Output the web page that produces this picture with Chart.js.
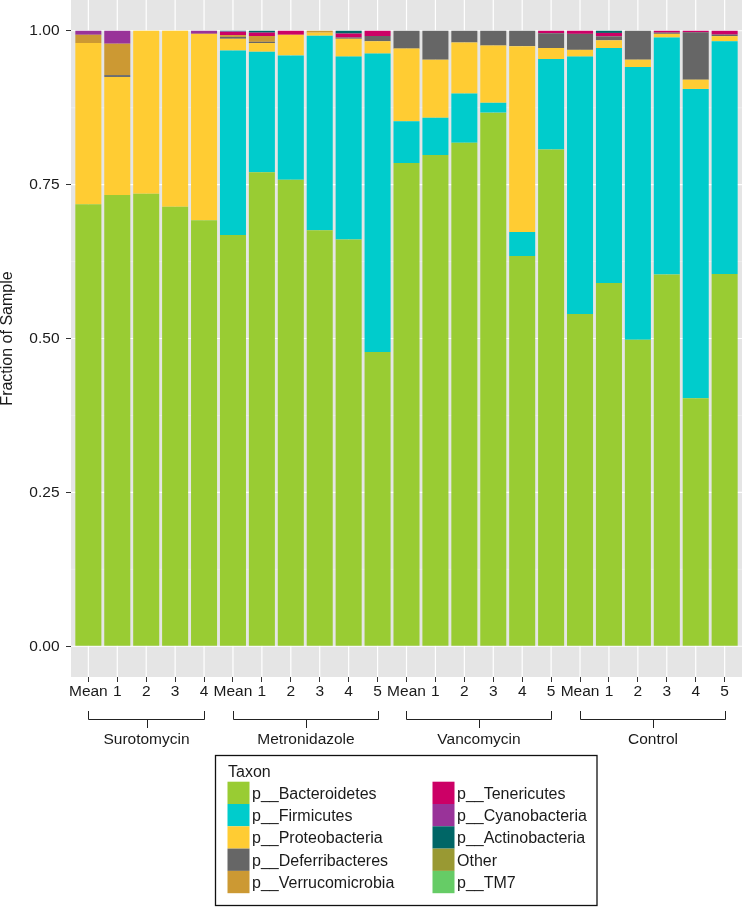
<!DOCTYPE html>
<html>
<head>
<meta charset="utf-8">
<script src="https://cdn.jsdelivr.net/npm/chart.js@4.4.1/dist/chart.umd.min.js"></script>
<style>
html,body{margin:0;padding:0;background:#fff;}
#c{display:block;}
</style>
</head>
<body>
<canvas id="c" width="742" height="908"></canvas>
<script>
// ---------- DATA ----------
const groups = ["Surotomycin", "Metronidazole", "Vancomycin", "Control"];
const groupSizes = [5, 6, 6, 6];
const categories = ["Mean","1","2","3","4",
                    "Mean","1","2","3","4","5",
                    "Mean","1","2","3","4","5",
                    "Mean","1","2","3","4","5"];
const yTickValues = [0, 0.25, 0.5, 0.75, 1.0];
const yMinorValues = [0.125, 0.375, 0.625, 0.875];

const taxa = ["p__Bacteroidetes","p__Firmicutes","p__Proteobacteria","p__Deferribacteres","p__Verrucomicrobia",
              "p__Tenericutes","p__Cyanobacteria","p__Actinobacteria","Other","p__TM7"];
const taxaColors = ["#99CC33","#00CCCC","#FFCC33","#666666","#CC9933",
                    "#CC0066","#993399","#006666","#999933","#66CC66"];

const bacteroidetes   = [0.718,0.733,0.735,0.714,0.692, 0.668,0.770,0.758,0.676,0.661,0.478, 0.785,0.798,0.818,0.867,0.634,0.807, 0.540,0.590,0.498,0.604,0.403,0.605];
const firmicutes      = [0,0,0,0,0, 0.300,0.196,0.202,0.316,0.297,0.485, 0.068,0.0605,0.080,0.016,0.039,0.147, 0.418,0.382,0.443,0.385,0.5025,0.378];
const proteobacteria  = [0.262,0.192,0.265,0.286,0.303, 0.019,0.014,0.0335,0.005,0.029,0.020, 0.118,0.0945,0.083,0.093,0.302,0.018, 0.011,0.0125,0.012,0.006,0.015,0.0083];
const deferribacteres = [0,0.003,0,0,0, 0.003,0.002,0,0,0.002,0.0085, 0.029,0.047,0.019,0.024,0.025,0.024, 0.026,0.0065,0.047,0.002,0.077,0.0025];
const verrucomicrobia = [0.0135,0.051,0,0,0, 0.003,0.0095,0,0.003,0,0, 0,0,0,0,0,0, 0,0,0,0,0,0];
const tenericutes     = [0,0,0,0,0, 0.005,0.0055,0.0065,0,0.0065,0.0085, 0,0,0,0,0,0.004, 0.005,0.0055,0,0.003,0.0025,0.0062];
const cyanobacteria   = [0.0065,0.021,0,0,0.005, 0.001,0,0,0,0,0, 0,0,0,0,0,0, 0,0,0,0,0,0];
const actinobacteria  = [0,0,0,0,0, 0.001,0.003,0,0,0.0045,0, 0,0,0,0,0,0, 0,0.0035,0,0,0,0];
const other           = [0,0,0,0,0, 0,0,0,0,0,0, 0,0,0,0,0,0, 0,0,0,0,0,0];
const tm7             = [0,0,0,0,0, 0,0,0,0,0,0, 0,0,0,0,0,0, 0,0,0,0,0,0];

const series = [bacteroidetes, firmicutes, proteobacteria, deferribacteres, verrucomicrobia,
                tenericutes, cyanobacteria, actinobacteria, other, tm7];

// ---------- STYLE ----------
const FONT = "'Liberation Sans', Arial, Helvetica, sans-serif";
const TEXT = "#1a1a1a";
Chart.defaults.font.family = FONT;

const panelPlugin = {
  id: 'panel',
  beforeDatasetsDraw(chart) {
    const {ctx, chartArea: a, scales: {x, y}} = chart;
    ctx.save();
    ctx.fillStyle = '#E5E5E5';
    ctx.fillRect(a.left, a.top, a.right - a.left, a.bottom - a.top);
    ctx.strokeStyle = '#F2F2F2';
    ctx.lineWidth = 0.6;
    yMinorValues.forEach(v => {
      const py = y.getPixelForValue(v);
      ctx.beginPath(); ctx.moveTo(a.left, py); ctx.lineTo(a.right, py); ctx.stroke();
    });
    ctx.strokeStyle = '#FFFFFF';
    ctx.lineWidth = 1.2;
    yTickValues.forEach(v => {
      const py = y.getPixelForValue(v);
      ctx.beginPath(); ctx.moveTo(a.left, py); ctx.lineTo(a.right, py); ctx.stroke();
    });
    categories.forEach((c, i) => {
      const px = x.getPixelForValue(i);
      ctx.beginPath(); ctx.moveTo(px, a.top); ctx.lineTo(px, a.bottom); ctx.stroke();
    });
    ctx.restore();
  }
};

const annotationPlugin = {
  id: 'annot',
  afterDraw(chart) {
    const {ctx, scales: {x}} = chart;
    ctx.save();
    ctx.strokeStyle = '#222';
    ctx.lineWidth = 1;
    ctx.fillStyle = TEXT;
    ctx.font = "15.5px " + FONT;
    ctx.textAlign = 'center';
    ctx.textBaseline = 'alphabetic';
    let start = 0;
    groups.forEach((g, gi) => {
      const end = start + groupSizes[gi] - 1;
      const x1 = Math.round(x.getPixelForValue(start)) + 0.5;
      const x2 = Math.round(x.getPixelForValue(end)) + 0.5;
      const xm = Math.round((x1 + x2) / 2) + 0.5;
      const yTop = 711, yH = 719.5, yBot = 728;
      ctx.beginPath();
      ctx.moveTo(x1, yTop); ctx.lineTo(x1, yH); ctx.lineTo(x2, yH); ctx.lineTo(x2, yTop);
      ctx.moveTo(xm, yH); ctx.lineTo(xm, yBot);
      ctx.stroke();
      ctx.fillText(g, (x1 + x2) / 2, 743.5);
      start = end + 1;
    });

    // legend
    const bx = 215.5, by = 755.5, bw = 381.5, bh = 150;
    ctx.lineWidth = 1.3;
    ctx.strokeStyle = '#111';
    ctx.strokeRect(bx, by, bw, bh);
    ctx.textAlign = 'left';
    ctx.font = "16px " + FONT;
    ctx.fillStyle = TEXT;
    ctx.fillText("Taxon", 228, 777);
    const rowTop = 781.7, rowH = 22.3, keyW = 22;
    const colX = [227.5, 432.5];
    taxa.forEach((t, i) => {
      const col = Math.floor(i / 5), row = i % 5;
      const ky = rowTop + row * rowH;
      ctx.fillStyle = taxaColors[i];
      ctx.fillRect(colX[col], ky, keyW, rowH);
      ctx.fillStyle = TEXT;
      ctx.fillText(t, colX[col] + keyW + 2.5, ky + rowH / 2 + 5.8);
    });
    ctx.restore();
  }
};

const datasets = taxa.map((t, i) => ({
  label: t,
  data: series[i].map((v, j) => ({x: j, y: v})),
  backgroundColor: taxaColors[i],
  borderWidth: 0,
  barPercentage: 0.9,
  categoryPercentage: 1.0,
  stack: 'all'
}));

new Chart(document.getElementById('c'), {
  type: 'bar',
  data: { datasets },
  options: {
    responsive: false,
    animation: false,
    devicePixelRatio: 1,
    layout: { padding: 0 },
    plugins: { legend: { display: false }, tooltip: { enabled: false } },
    scales: {
      x: {
        type: 'linear',
        stacked: true,
        min: -0.6,
        max: categories.length - 1 + 0.6,
        offset: false,
        grid: { offset: false, drawOnChartArea: false, drawTicks: true, tickLength: 5, tickColor: '#333', tickWidth: 1 },
        border: { display: false },
        afterBuildTicks(s) { s.ticks = categories.map((c, i) => ({ value: i })); },
        ticks: {
          autoSkip: false, maxRotation: 0, minRotation: 0, padding: 0,
          color: TEXT, font: { size: 15.5, family: FONT },
          callback: (v) => categories[Math.round(v)]
        },
        afterFit(s) { s.height = 231; s.paddingLeft = 0; s.paddingRight = 0; }
      },
      y: {
        type: 'linear',
        stacked: true,
        min: -0.05,
        max: 1.05,
        grid: { drawOnChartArea: false, drawTicks: true, tickLength: 5, tickColor: '#333', tickWidth: 1 },
        border: { display: false },
        afterBuildTicks(s) { s.ticks = yTickValues.map(v => ({ value: v })); },
        ticks: {
          padding: 6.5, color: TEXT, font: { size: 15.5, family: FONT },
          callback: (v) => Number(v).toFixed(2)
        },
        title: {
          display: true, text: 'Fraction of Sample', color: TEXT,
          font: { size: 16, family: FONT, lineHeight: 1 }, padding: 0
        },
        afterFit(s) { s.width = 71; s.paddingTop = 0; s.paddingBottom = 0; }
      }
    }
  },
  plugins: [panelPlugin, annotationPlugin]
});
</script>
</body>
</html>
